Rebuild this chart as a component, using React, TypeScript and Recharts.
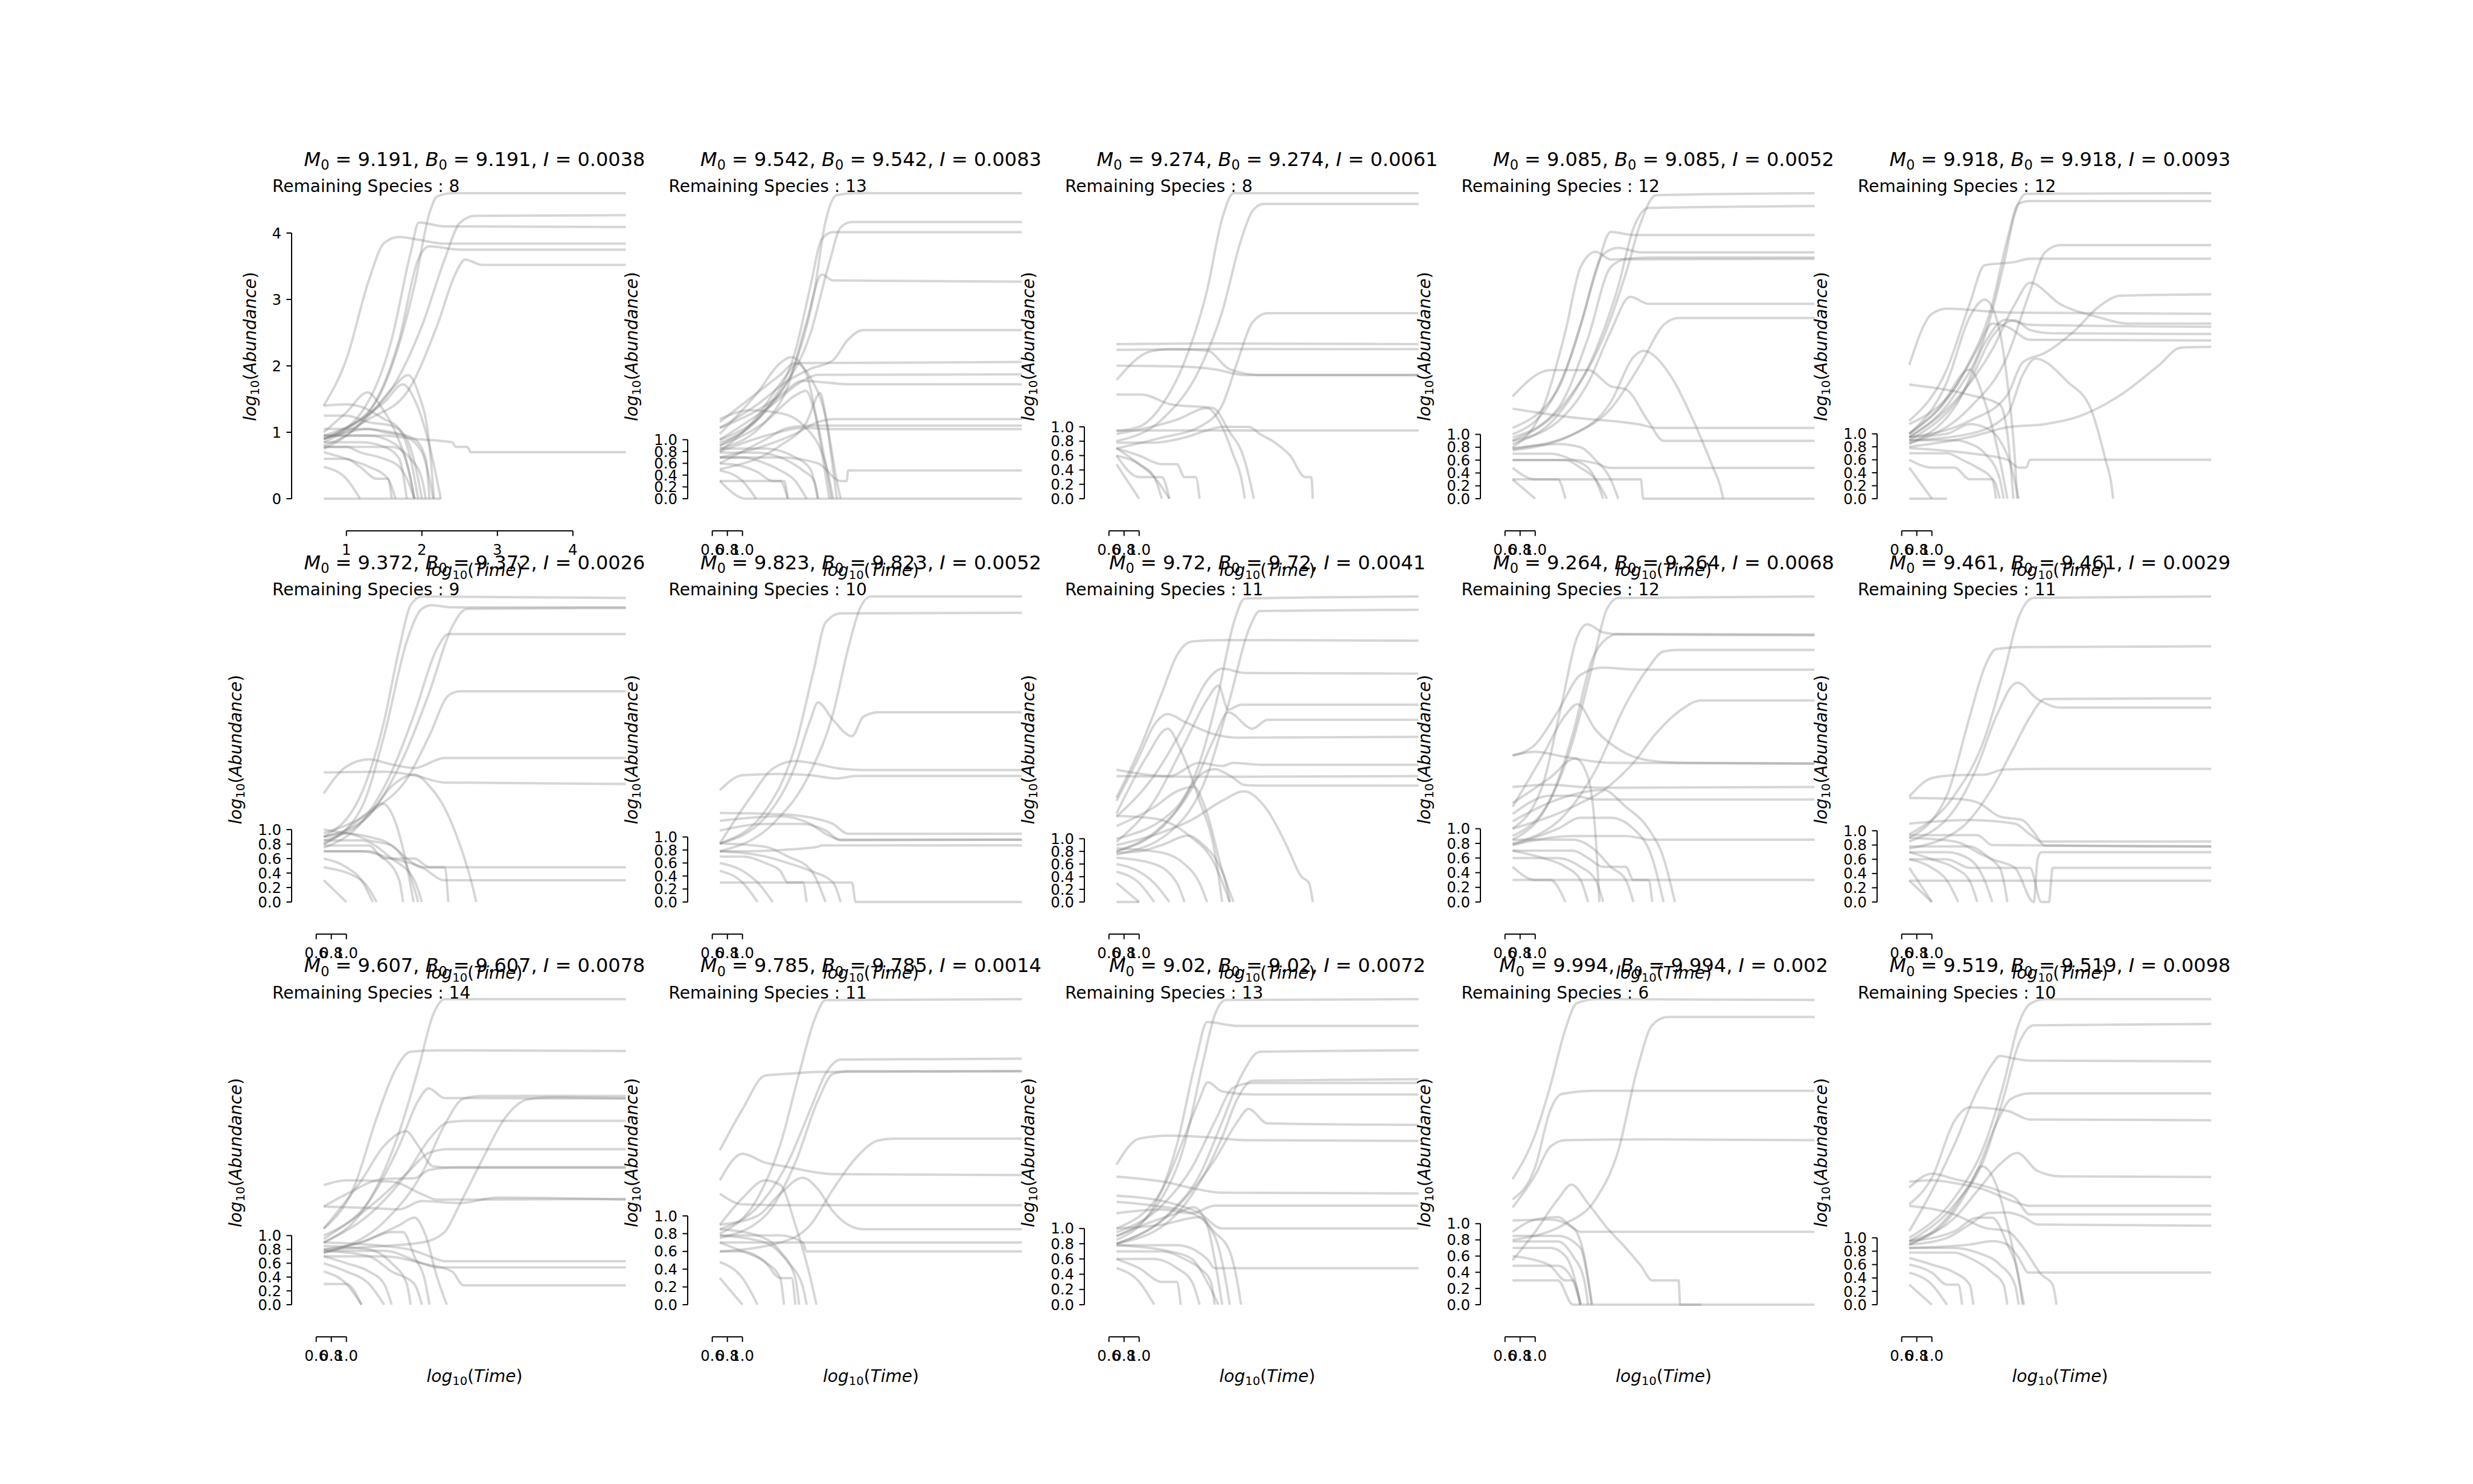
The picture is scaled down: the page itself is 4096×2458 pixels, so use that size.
import React from 'react';
import { LineChart, Line, XAxis, YAxis, ReferenceLine } from 'recharts';

// ---- data: each line = flat list of (log10 time, log10 abundance) pairs ----
const P1: number[][] = [
  [0.7,0.9, 1.0,1.05, 1.5,1.7, 1.9,3.2, 2.1,4.3, 2.2,4.55, 2.4,4.6, 4.7,4.6],
  [0.7,0.95, 1.5,1.5, 2.0,2.6, 2.3,3.6, 2.5,4.15, 2.7,4.26, 4.7,4.27],
  [0.7,0.9, 1.2,1.3, 1.6,2.4, 1.85,3.7, 1.96,4.16, 2.3,4.1, 4.7,4.09],
  [0.7,1.4, 1.0,2.1, 1.3,3.3, 1.5,3.85, 1.7,3.94, 1.95,3.9, 2.3,3.84, 4.7,3.84],
  [0.7,0.8, 1.3,1.3, 1.7,2.4, 1.95,3.6, 2.1,3.8, 2.5,3.75, 4.7,3.75],
  [0.7,0.85, 1.3,1.2, 1.8,1.6, 2.2,2.6, 2.45,3.4, 2.57,3.6, 2.8,3.52, 4.7,3.52],
  [0.7,0.75, 1.0,0.95, 1.3,1.25, 1.6,1.65, 1.82,1.86, 1.95,1.6, 2.1,0.8, 2.16,0],
  [0.7,0.9, 1.2,1.2, 1.5,1.45, 1.75,1.72, 1.9,1.5, 2.1,0.8, 2.25,0],
  [0.7,1.0, 1.0,1.3, 1.28,1.6, 1.45,1.4, 1.65,1.0, 1.85,0.3, 1.9,0],
  [0.7,1.25, 1.0,1.25, 1.3,1.15, 1.6,1.1, 1.8,0.9, 1.95,0.3, 2.0,0],
  [0.7,1.4, 1.0,1.42, 1.2,1.38, 1.5,1.2, 1.7,1.05, 1.85,0.6, 1.95,0],
  [0.7,0.95, 1.5,0.95, 1.9,0.9, 2.4,0.85, 2.45,0.78, 2.6,0.78, 2.65,0.7, 4.7,0.7],
  [0.7,0, 2.25,0],
  [0.7,0.78, 1.0,0.78, 1.18,0.7, 1.5,0.6, 1.7,0.48, 1.8,0.3, 1.9,0],
  [0.7,0.6, 1.0,0.6, 1.18,0.48, 1.4,0.3, 1.55,0.3, 1.6,0],
  [0.7,0.48, 1.0,0.3, 1.18,0],
  [0.7,0.7, 1.0,0.6, 1.3,0.48, 1.55,0.3, 1.65,0],
  [0.7,0.95, 1.3,0.95, 1.6,0.85, 1.75,0.7, 1.85,0.3, 1.9,0],
  [0.7,0.78, 1.6,0.78, 1.85,0.6, 2.0,0.3, 2.05,0],
  [0.7,0.9, 1.0,1.0, 1.3,1.05, 1.5,1.0, 1.75,0.95, 2.0,0.7, 2.1,0.3, 2.15,0],
  [0.7,0.85, 1.2,0.85, 1.5,0.78, 1.7,0.6, 1.8,0],
  [0.7,1.05, 1.2,1.05, 1.6,1.0, 1.9,0.9, 2.05,0.6, 2.1,0],
];
const P2: number[][] = [
  [0.7,0.9, 1.3,1.5, 1.7,2.3, 1.95,3.5, 2.1,4.7, 2.25,5.15, 2.5,5.18, 4.7,5.18],
  [0.7,1.0, 1.5,1.8, 1.9,2.8, 2.15,4.0, 2.3,4.6, 2.45,4.69, 4.7,4.69],
  [0.7,0.95, 1.3,1.5, 1.7,2.5, 1.9,3.6, 2.05,4.4, 2.2,4.52, 4.7,4.52],
  [0.7,0.85, 1.3,1.3, 1.6,1.9, 1.85,3.0, 2.05,3.8, 2.2,3.7, 4.7,3.68],
  [0.7,1.2, 1.2,1.6, 1.6,2.0, 1.9,2.2, 2.2,2.35, 2.4,2.7, 2.6,2.86, 4.7,2.86],
  [0.7,0.8, 1.2,1.4, 1.5,1.95, 1.75,2.3, 2.0,2.3, 4.7,2.32],
  [0.7,1.0, 1.4,1.6, 1.8,2.0, 2.0,2.1, 4.7,2.11],
  [0.7,1.2, 1.2,1.5, 1.5,1.75, 1.8,2.0, 2.1,1.97, 2.4,1.94, 4.7,1.94],
  [0.7,0.7, 1.3,0.9, 1.7,1.1, 2.0,1.3, 2.2,1.35, 4.7,1.35],
  [0.7,0.6, 1.3,1.0, 1.6,1.2, 1.9,1.24, 4.7,1.24],
  [0.7,0.8, 1.4,1.1, 1.8,1.2, 2.2,1.18, 4.7,1.18],
  [0.7,0.7, 1.5,0.7, 2.0,0.6, 2.3,0.3, 2.38,0.3, 2.4,0.48, 4.7,0.48],
  [0.7,0.3, 1.05,0, 4.7,0],
  [0.7,1.1, 1.2,1.8, 1.5,2.3, 1.65,2.4, 1.85,2.1, 2.0,1.2, 2.1,0.4, 2.15,0],
  [0.7,0.9, 1.3,1.3, 1.7,1.75, 1.84,1.83, 1.95,1.5, 2.1,0.6, 2.18,0],
  [0.7,0.5, 1.5,0.9, 1.85,1.3, 2.03,1.79, 2.1,1.4, 2.2,0.5, 2.25,0],
  [0.7,1.3, 1.2,1.8, 1.5,2.1, 1.7,2.3, 1.9,2.05, 2.1,1.4, 2.25,0.3, 2.3,0],
  [0.7,1.35, 1.1,1.5, 1.5,1.45, 1.8,1.25, 2.1,0.6, 2.2,0],
  [0.7,0.6, 1.0,0.55, 1.2,0.45, 1.4,0.3, 1.55,0.3, 1.6,0],
  [0.7,0.3, 1.5,0.3, 1.6,0],
  [0.7,0.48, 1.0,0.3, 1.18,0],
  [0.7,0.7, 1.0,0.7, 1.3,0.6, 1.5,0.48, 1.7,0.3, 1.85,0],
  [0.7,0.78, 1.2,0.78, 1.5,0.7, 1.8,0.48, 1.95,0.3, 2.0,0],
  [0.7,0.85, 1.3,0.85, 1.7,0.7, 1.9,0.5, 2.0,0],
];
const P3: number[][] = [
  [0.7,0.94, 1.0,1.0, 1.3,1.3, 1.6,1.9, 1.9,2.9, 2.1,3.9, 2.25,4.25, 4.7,4.25],
  [0.7,0.8, 1.3,1.1, 1.8,1.8, 2.1,2.6, 2.35,3.6, 2.5,4.0, 2.65,4.1, 4.7,4.1],
  [0.7,0.7, 1.3,0.85, 1.8,1.0, 2.1,1.3, 2.3,1.9, 2.5,2.45, 2.7,2.58, 4.7,2.58],
  [0.7,2.15, 2.0,2.16, 4.7,2.15],
  [0.7,2.07, 2.0,2.08, 4.7,2.08],
  [0.7,1.65, 1.15,2.05, 1.4,2.08, 1.9,2.06, 2.2,1.8, 2.6,1.72, 4.7,1.72],
  [0.7,1.85, 1.5,1.84, 2.0,1.8, 2.4,1.72, 4.7,1.72],
  [0.7,1.45, 1.03,1.45, 1.43,1.31, 1.98,1.26, 2.19,0.94, 2.39,0.56, 2.52,0],
  [0.7,0.95, 4.7,0.95],
  [0.7,0.78, 1.2,0.78, 1.6,0.85, 1.9,0.95, 2.1,1.0, 2.45,1.0, 2.6,0.9, 2.8,0.78, 3.0,0.6, 3.2,0.3, 3.28,0.3, 3.3,0],
  [0.7,0.9, 1.5,1.1, 1.9,1.26, 2.1,1.0, 2.25,0.6, 2.35,0.3, 2.4,0],
  [0.7,0.7, 1.0,0.6, 1.3,0.48, 1.5,0.48, 1.6,0.3, 1.75,0.3, 1.8,0],
  [0.7,0.6, 1.0,0.3, 1.3,0.3, 1.4,0],
  [0.7,0.48, 1.0,0],
  [0.7,0.7, 1.0,0.48, 1.2,0.3, 1.4,0],
  [0.7,0.6, 1.0,0.48, 1.2,0.3, 1.3,0],
];
const P4: number[][] = [
  [0.7,0.9, 1.4,1.5, 1.9,2.5, 2.2,3.5, 2.4,4.3, 2.6,4.72, 4.7,4.75],
  [0.7,0.85, 1.3,1.3, 1.8,2.3, 2.1,3.3, 2.3,4.2, 2.5,4.52, 4.7,4.55],
  [0.7,1.0, 1.2,1.5, 1.5,2.3, 1.8,3.5, 2.0,4.15, 2.3,4.1, 4.7,4.1],
  [0.7,1.1, 1.3,1.7, 1.6,2.7, 1.9,3.8, 2.1,3.9, 2.4,3.83, 4.7,3.83],
  [0.7,0.8, 1.1,1.4, 1.4,2.6, 1.6,3.6, 1.8,3.84, 2.0,3.72, 2.5,3.75, 4.7,3.75],
  [0.7,0.95, 1.3,1.4, 1.7,2.5, 2.0,3.6, 2.2,3.72, 4.7,3.73],
  [0.7,0.9, 1.3,1.2, 1.7,1.8, 2.0,2.6, 2.26,3.14, 2.5,3.03, 4.7,3.03],
  [0.7,0.75, 1.5,1.0, 2.0,1.4, 2.4,2.1, 2.7,2.7, 2.9,2.81, 4.7,2.81],
  [0.7,0.78, 1.5,1.0, 2.0,1.5, 2.3,2.2, 2.43,2.3, 2.8,1.9, 3.1,1.2, 3.35,0.5, 3.45,0.2, 3.49,0],
  [0.7,1.59, 1.2,2.0, 1.7,2.0, 2.0,1.75, 2.2,1.7, 2.5,1.2, 2.7,0.9, 4.7,0.9],
  [0.7,1.4, 1.6,1.25, 2.0,1.21, 2.4,1.15, 2.6,1.1, 4.7,1.1],
  [0.7,0.6, 1.5,0.6, 1.8,0.55, 2.0,0.48, 4.7,0.48],
  [0.7,0.3, 1.0,0.3, 2.4,0.3, 2.43,0, 4.7,0],
  [0.7,0.7, 1.2,0.7, 1.5,0.6, 1.7,0.48, 1.8,0.3, 1.9,0],
  [0.7,0.6, 1.4,0.6, 1.6,0.48, 1.8,0.3, 1.95,0],
  [0.7,0.48, 1.0,0.3, 1.3,0.3, 1.4,0],
  [0.7,0.3, 1.0,0],
  [0.7,0.78, 1.3,0.85, 1.6,0.8, 1.8,0.6, 2.0,0.3, 2.1,0],
];
const P5: number[][] = [
  [0.7,0.95, 1.3,1.6, 1.7,2.5, 1.95,3.6, 2.1,4.4, 2.25,4.7, 4.7,4.71],
  [0.7,1.0, 1.4,1.9, 1.8,3.0, 2.0,4.0, 2.15,4.55, 2.3,4.59, 4.7,4.59],
  [0.7,0.85, 1.5,1.4, 2.0,2.2, 2.3,3.2, 2.5,3.8, 2.7,3.91, 4.7,3.91],
  [0.7,1.2, 1.2,2.0, 1.5,3.0, 1.7,3.6, 2.1,3.65, 2.3,3.7, 4.7,3.7],
  [0.7,0.95, 1.3,1.5, 1.8,2.3, 2.1,3.0, 2.3,3.33, 2.7,3.0, 3.2,2.8, 3.6,2.7, 4.7,2.7],
  [0.7,1.0, 1.2,1.8, 1.5,2.8, 1.7,3.07, 1.85,2.8, 2.0,1.8, 2.1,0.6, 2.13,0],
  [0.7,2.06, 1.0,2.85, 1.2,2.93, 2.0,2.87, 4.7,2.85],
  [0.7,0.85, 1.4,1.6, 1.7,2.4, 1.98,2.76, 2.3,2.68, 4.7,2.65],
  [0.7,0.9, 1.5,1.8, 1.8,2.5, 2.1,2.75, 2.3,2.6, 2.6,2.55, 4.7,2.54],
  [0.7,1.15, 1.3,1.7, 1.6,2.3, 1.8,2.7, 2.0,2.65, 2.3,2.45, 4.7,2.44],
  [0.7,0.95, 1.5,1.2, 2.0,1.6, 2.2,2.1, 2.5,2.25, 2.9,2.6, 3.2,2.95, 3.5,3.13, 4.7,3.15],
  [0.7,0.8, 1.5,0.95, 2.0,1.1, 2.5,1.15, 2.9,1.25, 3.5,1.6, 4.0,2.05, 4.3,2.33, 4.7,2.34],
  [0.7,0.9, 1.5,1.0, 2.0,1.3, 2.2,1.9, 2.37,2.16, 2.8,1.8, 3.1,1.4, 3.3,0.6, 3.38,0.2, 3.4,0],
  [0.7,1.0, 1.1,1.4, 1.5,1.99, 1.7,1.5, 1.9,0.6, 2.0,0],
  [0.7,1.76, 1.5,1.6, 1.9,1.45, 2.0,1.0, 2.08,0],
  [0.7,0.78, 1.5,0.7, 2.0,0.6, 2.15,0.48, 2.25,0.48, 2.3,0.6, 4.7,0.6],
  [0.7,0.6, 1.0,0.48, 1.3,0.48, 1.5,0.3, 1.8,0.3, 1.9,0],
  [0.7,0.48, 1.0,0],
  [0.7,0.7, 1.2,0.7, 1.4,0.6, 1.6,0.48, 1.8,0.3, 1.85,0],
  [0.7,0.9, 1.3,0.9, 1.5,0.85, 1.7,0.7, 1.9,0.3, 1.95,0],
  [0.7,0, 1.2,0],
  [0.7,0.95, 1.2,1.0, 1.5,1.15, 1.7,1.1, 1.9,0.9, 2.05,0.5, 2.15,0],
];
const P6: number[][] = [
  [0.7,0.9, 1.2,1.5, 1.5,2.5, 1.7,3.5, 1.85,4.1, 2.0,4.22, 4.7,4.2],
  [0.7,0.8, 1.2,1.3, 1.5,2.3, 1.8,3.6, 2.0,4.05, 2.13,4.1, 2.4,4.07, 4.7,4.07],
  [0.7,0.85, 1.3,1.2, 1.8,2.1, 2.1,2.9, 2.4,3.8, 2.6,4.05, 4.7,4.06],
  [0.7,0.75, 1.2,1.1, 1.6,1.8, 1.9,2.6, 2.2,3.5, 2.35,3.7, 4.7,3.7],
  [0.7,0.95, 1.4,1.3, 1.8,1.7, 2.1,2.3, 2.35,2.85, 2.5,2.91, 4.7,2.91],
  [0.7,1.5, 1.0,1.87, 1.3,1.97, 1.6,1.9, 1.9,1.85, 2.3,1.99, 4.7,1.99],
  [0.7,1.79, 1.5,1.8, 1.9,1.75, 2.3,1.65, 4.7,1.63],
  [0.7,0.9, 1.3,1.2, 1.6,1.6, 1.9,1.76, 2.1,1.6, 2.3,1.3, 2.5,0.8, 2.65,0.3, 2.72,0],
  [0.7,0.8, 1.0,1.0, 1.3,1.25, 1.48,1.36, 1.65,1.1, 1.8,0.5, 1.89,0],
  [0.7,0.78, 1.3,0.78, 1.5,0.6, 1.9,0.6, 2.1,0.48, 4.7,0.48],
  [0.7,0.7, 1.2,0.7, 1.6,0.6, 2.0,0.48, 2.3,0.3, 4.7,0.3],
  [0.7,0.6, 1.0,0.48, 1.2,0.3, 1.35,0],
  [0.7,0.3, 1.0,0],
  [0.7,0.48, 1.2,0.3, 1.4,0],
  [0.7,0.7, 1.3,0.7, 1.5,0.6, 1.7,0.3, 1.75,0],
  [0.7,0.9, 1.0,0.95, 1.3,0.85, 1.6,0.78, 1.8,0.6, 2.0,0.48, 2.3,0.48, 2.35,0],
  [0.7,1.0, 1.0,0.95, 1.3,0.9, 1.6,0.78, 1.8,0.5, 1.95,0],
  [0.7,0.85, 1.2,0.85, 1.6,0.6, 1.9,0.3, 2.0,0],
];
const P7: number[][] = [
  [0.7,0.78, 1.4,1.2, 1.9,2.0, 2.2,2.9, 2.4,3.9, 2.55,4.5, 2.7,4.7, 4.7,4.7],
  [0.7,0.9, 1.3,1.4, 1.7,2.4, 1.95,3.6, 2.1,4.3, 2.3,4.44, 4.7,4.45],
  [0.7,0.9, 1.3,1.3, 1.7,2.1, 1.9,2.8, 2.0,3.07, 2.2,2.8, 2.45,2.55, 2.6,2.85, 2.8,2.92, 4.7,2.92],
  [0.7,1.72, 1.0,1.95, 1.5,1.97, 1.9,1.95, 2.25,1.9, 2.5,1.94, 4.7,1.94],
  [0.7,0.9, 1.1,1.6, 1.4,2.05, 1.7,2.17, 2.0,2.12, 2.3,2.05, 2.6,2.03, 4.7,2.03],
  [0.7,1.37, 1.5,1.35, 1.9,1.3, 2.2,1.2, 2.4,1.05, 4.7,1.05],
  [0.7,1.1, 1.3,1.2, 1.8,1.2, 2.1,1.1, 2.3,0.95, 4.7,0.96],
  [0.7,1.25, 1.5,1.32, 1.9,1.2, 2.1,1.05, 2.3,0.96, 4.7,0.96],
  [0.7,0.78, 1.0,0.78, 1.5,0.8, 2.0,0.85, 2.05,0.87, 4.7,0.87],
  [0.7,0.3, 1.3,0.3, 2.0,0.3, 2.45,0.3, 2.5,0, 4.7,0],
  [0.7,0.7, 1.0,0.7, 1.3,0.6, 1.5,0.48, 1.6,0.3, 1.8,0.3, 1.85,0],
  [0.7,0.6, 1.0,0.48, 1.2,0.3, 1.4,0],
  [0.7,0.48, 1.0,0.3, 1.2,0],
  [0.7,0.78, 1.3,0.7, 1.6,0.6, 1.9,0.48, 2.2,0.3, 2.3,0],
  [0.7,0.9, 1.3,0.85, 1.6,0.7, 1.9,0.5, 2.1,0],
];
const P8: number[][] = [
  [0.7,0.8, 1.4,1.3, 1.8,2.2, 2.05,3.3, 2.25,4.4, 2.4,4.8, 4.7,4.83],
  [0.7,0.75, 1.4,1.1, 1.9,2.0, 2.2,3.2, 2.45,4.3, 2.6,4.6, 4.7,4.62],
  [0.7,1.65, 1.0,2.4, 1.3,3.3, 1.5,3.9, 1.7,4.12, 2.1,4.14, 4.7,4.13],
  [0.7,1.35, 1.2,2.0, 1.6,2.8, 1.9,3.5, 2.1,3.69, 2.4,3.62, 4.7,3.61],
  [0.7,0.95, 1.2,1.6, 1.6,2.5, 1.9,3.2, 2.05,3.42, 2.18,3.04, 2.35,3.12, 4.7,3.12],
  [0.7,0.8, 1.3,1.2, 1.7,1.8, 2.0,2.6, 2.18,3.0, 2.5,2.74, 2.7,2.88, 4.7,2.88],
  [0.7,1.6, 1.0,2.3, 1.2,2.8, 1.38,2.97, 1.6,2.85, 2.0,2.65, 2.3,2.6, 4.7,2.61],
  [0.7,1.4, 1.1,2.3, 1.38,2.74, 1.55,2.4, 1.8,1.6, 2.0,0.8, 2.1,0],
  [0.7,2.09, 1.4,1.99, 1.8,2.2, 2.1,2.15, 2.25,2.2, 2.6,2.17, 4.7,2.17],
  [0.7,1.99, 1.6,1.98, 2.4,1.98, 4.7,1.99],
  [0.7,1.0, 1.5,1.5, 1.8,2.0, 2.0,2.1, 2.2,2.0, 2.4,1.85, 2.6,1.84, 4.7,1.84],
  [0.7,0.9, 1.3,1.1, 1.7,1.3, 2.1,1.6, 2.39,1.75, 2.7,1.45, 2.95,0.9, 3.15,0.4, 3.25,0.3, 3.3,0],
  [0.7,1.2, 1.2,1.5, 1.5,1.75, 1.72,1.82, 1.9,1.4, 2.1,0.5, 2.25,0],
  [0.7,0.78, 1.0,0.8, 1.3,0.9, 1.65,1.05, 1.85,0.9, 2.05,0.6, 2.15,0.3, 2.2,0],
  [0.7,1.36, 1.2,1.32, 1.65,1.06, 2.0,0.6, 2.2,0],
  [0.7,0.6, 1.0,0.48, 1.2,0.3, 1.4,0],
  [0.7,0.48, 1.0,0.3, 1.2,0],
  [0.7,0.3, 1.0,0],
  [0.7,0.7, 1.2,0.6, 1.5,0.3, 1.6,0],
  [0.7,0.85, 1.3,0.78, 1.6,0.6, 1.8,0.3, 1.9,0],
  [0.7,0, 1.0,0],
];
const P9: number[][] = [
  [0.7,0.9, 1.2,1.4, 1.5,2.2, 1.75,3.2, 1.95,4.0, 2.1,4.15, 4.7,4.17],
  [0.7,1.0, 1.1,1.6, 1.35,2.7, 1.55,3.6, 1.69,3.79, 1.9,3.68, 2.2,3.65, 4.7,3.64],
  [0.7,0.85, 1.2,1.4, 1.5,2.3, 1.75,3.3, 1.95,3.6, 2.1,3.66, 4.7,3.65],
  [0.7,0.8, 1.4,1.2, 1.8,1.8, 2.2,2.7, 2.5,3.2, 2.7,3.42, 2.9,3.44, 4.7,3.44],
  [0.7,2.0, 1.0,2.15, 1.3,2.6, 1.6,3.1, 1.9,3.2, 2.2,3.18, 2.5,3.17, 4.7,3.17],
  [0.7,1.0, 1.5,1.3, 2.0,1.6, 2.3,1.9, 2.6,2.3, 2.9,2.6, 3.2,2.75, 4.7,2.75],
  [0.7,1.3, 1.1,2.0, 1.4,2.55, 1.56,2.7, 1.8,2.35, 2.2,2.03, 2.6,1.92, 3.0,1.9, 4.7,1.89],
  [0.7,2.0, 1.0,2.05, 1.4,1.98, 2.0,1.9, 4.7,1.89],
  [0.7,1.57, 1.2,1.6, 1.6,1.57, 2.0,1.56, 4.7,1.57],
  [0.7,1.2, 1.2,1.45, 1.5,1.45, 1.8,1.4, 4.7,1.4],
  [0.7,1.35, 1.2,1.7, 1.53,1.96, 1.7,1.7, 1.8,0.9, 1.85,0],
  [0.7,1.1, 1.3,1.4, 1.9,1.53, 2.2,1.3, 2.5,1.0, 2.7,0.6, 2.85,0],
  [0.7,0.78, 1.3,1.0, 1.6,1.15, 2.0,1.15, 2.3,1.0, 2.55,0.6, 2.7,0],
  [0.7,0.78, 1.5,0.9, 2.2,0.9, 2.4,0.87, 2.5,0.85, 4.7,0.85],
  [0.7,0.3, 4.7,0.3],
  [0.7,0.7, 1.5,0.7, 1.7,0.6, 1.9,0.48, 2.2,0.48, 2.3,0.3, 2.5,0.3, 2.55,0],
  [0.7,0.6, 1.3,0.6, 1.6,0.48, 1.8,0.3, 1.9,0],
  [0.7,0.48, 1.0,0.3, 1.2,0.3, 1.4,0],
  [0.7,0.7, 1.1,0.6, 1.4,0.48, 1.6,0.3, 1.7,0],
  [0.7,0.85, 1.5,0.85, 1.8,0.7, 2.0,0.48, 2.2,0.3, 2.3,0],
];
const P10: number[][] = [
  [0.7,0.95, 1.3,1.5, 1.7,2.3, 1.95,3.2, 2.15,4.0, 2.35,4.27, 4.7,4.29],
  [0.7,0.9, 1.2,1.5, 1.5,2.6, 1.7,3.3, 1.85,3.55, 2.2,3.58, 4.7,3.59],
  [0.7,0.85, 1.3,1.3, 1.6,1.9, 1.85,2.6, 2.13,3.08, 2.4,2.85, 2.7,2.73, 4.7,2.73],
  [0.7,0.75, 1.4,1.05, 1.8,1.6, 2.1,2.2, 2.3,2.6, 2.5,2.85, 4.7,2.86],
  [0.7,1.48, 1.0,1.74, 1.3,1.78, 1.7,1.79, 1.95,1.86, 2.5,1.87, 4.7,1.87],
  [0.7,1.46, 1.3,1.45, 1.6,1.4, 1.9,1.2, 2.2,1.15, 2.35,0.98, 2.5,0.79, 4.7,0.78],
  [0.7,1.1, 1.5,1.15, 2.1,1.1, 2.3,0.95, 2.45,0.85, 4.7,0.85],
  [0.7,0.94, 1.6,0.94, 1.8,0.8, 4.7,0.78],
  [0.7,0.78, 1.5,0.78, 1.8,0.6, 2.1,0.48, 2.35,0, 2.4,0.6, 2.45,0.7, 4.7,0.7],
  [0.7,0.6, 1.2,0.6, 1.5,0.48, 2.3,0.48, 2.45,0, 2.55,0, 2.6,0.48, 4.7,0.48],
  [0.7,0.3, 4.7,0.3],
  [0.7,0.7, 1.0,0.6, 1.3,0.48, 1.5,0.3, 1.6,0],
  [0.7,0.6, 1.0,0.48, 1.2,0.3, 1.35,0],
  [0.7,0.48, 1.0,0],
  [0.7,0.3, 1.0,0],
  [0.7,0.7, 1.2,0.7, 1.5,0.6, 1.7,0.3, 1.8,0],
  [0.7,0.9, 1.3,0.85, 1.6,0.7, 1.9,0.48, 2.0,0],
];
const P11: number[][] = [
  [0.7,0.9, 1.3,1.5, 1.7,2.5, 1.95,3.4, 2.15,4.2, 2.3,4.42, 4.7,4.42],
  [0.7,1.1, 1.1,1.7, 1.4,2.7, 1.65,3.4, 1.85,3.66, 2.2,3.68, 4.7,3.67],
  [0.7,1.0, 1.3,1.5, 1.7,2.3, 1.95,2.95, 2.09,3.13, 2.3,2.99, 4.7,2.98],
  [0.7,0.75, 1.5,1.2, 2.0,1.9, 2.3,2.6, 2.55,2.98, 2.8,3.02, 4.7,3.02],
  [0.7,0.8, 1.5,0.85, 2.0,0.9, 2.3,1.05, 2.5,1.45, 2.8,2.1, 3.1,2.7, 3.4,2.97, 3.7,3.0, 4.7,2.99],
  [0.7,0.9, 1.4,1.4, 1.8,1.9, 2.1,2.4, 2.35,2.64, 2.6,2.66, 4.7,2.66],
  [0.7,1.1, 1.2,1.8, 1.5,2.3, 1.79,2.51, 1.95,2.3, 2.15,2.0, 2.5,1.98, 4.7,1.98],
  [0.7,0.95, 1.4,1.5, 1.8,1.9, 2.1,2.2, 2.35,2.25, 4.7,2.25],
  [0.7,1.42, 1.0,1.6, 1.5,1.82, 1.9,1.83, 2.1,1.95, 2.5,1.99, 4.7,1.99],
  [0.7,1.42, 1.3,1.4, 1.7,1.38, 2.0,1.5, 2.5,1.47, 3.0,1.55, 4.7,1.52],
  [0.7,1.73, 1.0,1.8, 1.6,1.78, 2.0,1.6, 2.2,1.52, 4.7,1.53],
  [0.7,0.75, 1.3,0.95, 1.7,1.15, 1.9,1.26, 2.05,1.0, 2.2,0.4, 2.33,0],
  [0.7,0.8, 1.2,0.9, 1.6,1.05, 1.75,1.05, 1.9,0.7, 2.05,0.3, 2.1,0],
  [0.7,0.9, 1.5,0.85, 1.9,0.78, 2.1,0.7, 2.3,0.63, 4.7,0.63],
  [0.7,0.7, 1.5,0.7, 2.0,0.6, 2.2,0.54, 4.7,0.54],
  [0.7,0.3, 1.0,0.3, 1.2,0],
  [0.7,0.78, 1.5,0.78, 2.0,0.6, 2.4,0.48, 2.55,0.28, 4.7,0.28],
  [0.7,0.7, 1.0,0.6, 1.3,0.48, 1.5,0.3, 1.6,0],
  [0.7,0.48, 1.0,0.3, 1.2,0],
  [0.7,0.6, 1.0,0.48, 1.3,0.3, 1.5,0],
  [0.7,0.78, 1.3,0.7, 1.6,0.48, 1.9,0.3, 2.0,0],
  [0.7,0.85, 1.3,0.8, 1.6,0.6, 1.8,0.3, 1.85,0],
];
const P12: number[][] = [
  [0.7,0.8, 1.2,1.2, 1.5,1.8, 1.75,2.6, 1.95,3.2, 2.1,3.43, 4.7,3.44],
  [0.7,0.85, 1.2,1.1, 1.6,1.6, 1.9,2.2, 2.1,2.6, 2.3,2.76, 4.7,2.77],
  [0.7,0.75, 1.3,1.0, 1.7,1.6, 2.0,2.3, 2.2,2.6, 2.4,2.63, 4.7,2.63],
  [0.7,1.74, 1.0,2.2, 1.3,2.58, 1.6,2.6, 2.0,2.62, 4.7,2.63],
  [0.7,0.6, 1.5,0.7, 1.9,0.9, 2.2,1.3, 2.5,1.65, 2.8,1.85, 3.0,1.87, 4.7,1.87],
  [0.7,1.4, 1.0,1.7, 1.3,1.6, 1.6,1.55, 1.9,1.5, 2.2,1.47, 4.7,1.46],
  [0.7,1.25, 1.0,1.13, 1.5,1.12, 4.7,1.12],
  [0.7,0.9, 1.2,1.0, 1.5,1.25, 1.8,1.43, 2.0,1.3, 2.2,1.05, 2.4,0.9, 2.6,0.85, 4.7,0.85],
  [0.7,0.9, 1.0,1.2, 1.3,1.4, 1.5,1.35, 1.7,0.9, 1.9,0.3, 1.98,0],
  [0.7,0.7, 1.8,0.7, 4.7,0.7],
  [0.7,0.78, 1.5,0.78, 1.8,0.7, 1.85,0.6, 4.7,0.6],
  [0.7,0.48, 1.0,0.3, 1.2,0],
  [0.7,0.3, 1.0,0],
  [0.7,0.6, 1.0,0.6, 1.3,0.48, 1.5,0.3, 1.65,0.3, 1.7,0],
  [0.7,0.7, 1.0,0.6, 1.3,0.48, 1.5,0.3, 1.55,0],
  [0.7,0.85, 1.2,0.78, 1.5,0.6, 1.7,0.3, 1.75,0],
  [0.7,0.78, 1.3,0.7, 1.6,0.48, 1.8,0.2, 1.85,0],
];
const P13: number[][] = [
  [0.7,0.9, 1.3,1.4, 1.6,2.1, 1.85,3.2, 2.0,3.8, 2.15,4.0, 4.7,4.01],
  [0.7,0.85, 1.2,1.3, 1.5,2.1, 1.75,3.2, 1.9,3.71, 2.3,3.66, 4.7,3.66],
  [0.7,0.8, 1.4,1.2, 1.8,1.7, 2.1,2.4, 2.35,3.0, 2.6,3.32, 4.7,3.34],
  [0.7,0.8, 1.4,1.1, 1.8,1.6, 2.1,2.2, 2.3,2.7, 2.5,2.94, 4.7,2.96],
  [0.7,0.95, 1.3,1.3, 1.7,1.8, 2.0,2.4, 2.25,2.85, 2.5,2.91, 4.7,2.91],
  [0.7,1.0, 1.3,1.5, 1.6,2.2, 1.8,2.7, 1.91,2.92, 2.1,2.8, 2.5,2.76, 4.7,2.76],
  [0.7,0.8, 1.3,1.1, 1.7,1.5, 2.0,1.9, 2.3,2.4, 2.45,2.57, 2.7,2.38, 4.7,2.36],
  [0.7,1.84, 1.0,2.18, 1.4,2.22, 1.9,2.2, 2.4,2.16, 4.7,2.15],
  [0.7,1.68, 1.4,1.6, 1.7,1.53, 2.1,1.47, 4.7,1.46],
  [0.7,1.43, 1.4,1.34, 1.8,1.2, 2.1,1.0, 4.7,1.0],
  [0.7,1.2, 1.3,1.25, 1.7,1.2, 2.0,1.3, 2.4,1.3, 4.7,1.3],
  [0.7,0.9, 1.2,1.1, 1.5,1.2, 1.72,1.28, 1.9,1.05, 2.0,0.6, 2.1,0],
  [0.7,1.35, 1.2,1.3, 1.7,1.2, 2.0,0.9, 2.15,0.3, 2.2,0],
  [0.7,1.0, 1.3,1.05, 1.8,1.15, 2.0,0.95, 2.2,0.7, 2.3,0.3, 2.35,0],
  [0.7,0.78, 1.5,0.78, 1.9,0.6, 2.0,0.48, 4.7,0.48],
  [0.7,0.48, 1.0,0.3, 1.2,0],
  [0.7,0.6, 1.0,0.48, 1.3,0.3, 1.5,0.3, 1.55,0],
  [0.7,0.6, 1.2,0.6, 1.5,0.48, 1.7,0.3, 1.8,0],
  [0.7,0.7, 1.3,0.7, 1.6,0.6, 1.8,0.48, 1.95,0.3, 2.0,0],
  [0.7,0.78, 1.4,0.7, 1.7,0.6, 1.9,0.3, 2.05,0],
];
const P14: number[][] = [
  [0.7,1.55, 1.0,2.1, 1.2,2.7, 1.4,3.4, 1.55,3.72, 1.8,3.77, 4.7,3.76],
  [0.7,0.8, 1.4,1.0, 1.8,1.3, 2.1,1.9, 2.35,2.9, 2.55,3.45, 2.75,3.55, 4.7,3.55],
  [0.7,1.3, 1.0,1.7, 1.2,2.4, 1.35,2.6, 1.8,2.64, 4.7,2.64],
  [0.7,1.2, 1.0,1.6, 1.2,1.95, 1.4,2.03, 2.5,2.04, 4.7,2.03],
  [0.7,0.55, 1.0,0.9, 1.3,1.3, 1.48,1.48, 1.7,1.25, 1.95,0.95, 2.2,0.7, 2.4,0.48, 2.55,0.3, 2.9,0.3, 2.92,0, 3.2,0],
  [0.7,0.9, 1.0,1.05, 1.3,1.08, 1.5,0.95, 1.6,0.9, 4.7,0.9],
  [0.7,0.3, 1.3,0.3, 1.5,0, 4.7,0],
  [0.7,0.6, 1.0,0.55, 1.2,0.48, 1.4,0.3, 1.5,0.3, 1.6,0],
  [0.7,0.7, 1.2,0.7, 1.4,0.6, 1.5,0.4, 1.6,0],
  [0.7,0.78, 1.3,0.78, 1.5,0.6, 1.65,0.3, 1.7,0],
  [0.7,0.85, 1.3,0.85, 1.6,0.7, 1.7,0.3, 1.75,0],
  [0.7,1.04, 1.2,1.05, 1.5,0.95, 1.65,0.6, 1.75,0],
  [0.7,0.48, 1.3,0.48, 1.5,0.3, 1.6,0],
];
const P15: number[][] = [
  [0.7,1.0, 1.3,1.6, 1.7,2.4, 1.95,3.3, 2.15,4.2, 2.3,4.5, 2.5,4.57, 4.7,4.57],
  [0.7,0.95, 1.3,1.5, 1.7,2.2, 1.95,3.1, 2.15,3.9, 2.35,4.18, 4.7,4.2],
  [0.7,1.1, 1.0,1.7, 1.3,2.4, 1.6,3.2, 1.8,3.6, 1.9,3.72, 2.1,3.68, 2.3,3.65, 4.7,3.64],
  [0.7,0.9, 1.3,1.4, 1.6,2.0, 1.85,2.7, 2.05,3.08, 2.3,3.16, 4.7,3.16],
  [0.7,1.5, 1.0,1.9, 1.3,2.75, 1.5,2.95, 2.0,2.9, 2.3,2.77, 4.7,2.76],
  [0.7,0.95, 1.3,1.3, 1.6,1.7, 1.9,2.1, 2.13,2.27, 2.4,2.0, 2.7,1.92, 4.7,1.91],
  [0.7,0.9, 1.2,1.3, 1.5,1.8, 1.66,2.07, 1.85,1.8, 2.0,1.2, 2.15,0.4, 2.22,0],
  [0.7,1.84, 1.0,1.86, 1.3,1.82, 1.7,1.72, 2.0,1.58, 2.3,1.48, 4.7,1.48],
  [0.7,1.75, 1.0,1.96, 1.3,1.88, 1.9,1.7, 2.1,1.6, 2.3,1.35, 4.7,1.35],
  [0.7,0.9, 1.2,1.0, 1.5,1.2, 1.75,1.37, 2.0,1.38, 2.2,1.32, 2.4,1.2, 4.7,1.18],
  [0.7,1.48, 1.3,1.35, 1.7,1.15, 2.0,1.1, 2.2,0.87, 2.45,0.45, 2.6,0.3, 2.65,0],
  [0.7,0.95, 1.3,1.1, 1.6,1.3, 1.8,1.3, 2.0,0.9, 2.15,0.4, 2.2,0],
  [0.7,0.85, 1.5,0.9, 1.8,0.95, 2.0,0.9, 2.15,0.7, 2.28,0.48, 4.7,0.48],
  [0.7,0.3, 1.0,0],
  [0.7,0.48, 1.0,0.3, 1.2,0],
  [0.7,0.6, 1.0,0.48, 1.2,0.3, 1.35,0.3, 1.4,0],
  [0.7,0.7, 1.0,0.6, 1.3,0.48, 1.5,0.3, 1.55,0],
  [0.7,0.78, 1.3,0.78, 1.5,0.7, 1.8,0.48, 1.95,0.3, 2.0,0],
  [0.7,0.85, 1.3,0.85, 1.6,0.78, 1.9,0.6, 2.1,0.3, 2.15,0],
];

const PANELS = [P1, P2, P3, P4, P5, P6, P7, P8, P9, P10, P11, P12, P13, P14, P15];
const M0_LABELS = ['9.191','9.542','9.274','9.085','9.918','9.372','9.823','9.72','9.264','9.461','9.607','9.785','9.02','9.994','9.519'];
const I_LABELS = ['0.0038','0.0083','0.0061','0.0052','0.0093','0.0026','0.0052','0.0041','0.0068','0.0029','0.0078','0.0014','0.0072','0.002','0.0098'];
const REMAINING = [8, 13, 8, 12, 12, 9, 10, 11, 12, 11, 14, 11, 13, 6, 10];
const X_TICKS_FIRST = [1, 2, 3, 4];
const Y_TICKS_FIRST = [0, 1, 2, 3, 4];
const X_TICKS_OTHER = [0.6, 0.8, 1.0];
const Y_TICKS_OTHER = [0, 0.2, 0.4, 0.6, 0.8, 1.0];

// ---- layout (reference px, scaled by S) ----
const S = 0.585;
const FONT = 'DejaVu Sans';
const X_START0 = 916, X_STEP = 1122.25;    // where log10 t = 0.7 sits
const ZERO0 = 1412, ZERO_STEP = 1141.3;    // where log10 N = 0 sits
const DATA_W = 855, DATA_H = 865, OFFSET = 91;
const X_MIN_DATA = 0.7, X_MAX = 4.7;
const X_LO = X_MIN_DATA - OFFSET * (X_MAX - X_MIN_DATA) / DATA_W;
const YW = 200, MT = 150, XH = 100, MR = 20;
const PLOT_W = (DATA_W + OFFSET) * S;
const PLOT_H = (DATA_H + OFFSET) * S;
const CW = YW + PLOT_W + MR;
const CH = MT + PLOT_H + XH;

const toPts = (l: number[]) => {
  const out: { x: number; y: number }[] = [];
  for (let i = 0; i < l.length; i += 2) out.push({ x: l[i], y: l[i + 1] });
  return out;
};

function Panel({ idx }: { idx: number }) {
  const r = Math.floor(idx / 5), c = idx % 5;
  const start = X_START0 + X_STEP * c;
  const zero = ZERO0 + ZERO_STEP * r;
  const lines = PANELS[idx];
  let ymax = 0;
  lines.forEach((l) => { for (let i = 1; i < l.length; i += 2) ymax = Math.max(ymax, l[i]); });
  const yLo = -ymax * OFFSET / DATA_H;
  const first = idx === 0;
  const xt = first ? X_TICKS_FIRST : X_TICKS_OTHER;
  const yt = first ? Y_TICKS_FIRST : Y_TICKS_OTHER;
  const left = (start - OFFSET) * S - YW;
  const top = (zero - DATA_H) * S - MT;
  const tickStyle = { fill: '#000', fontSize: 24.4, fontFamily: FONT };
  const tl = { stroke: '#000', strokeWidth: 1.95 };
  return (
    <div style={{ position: 'absolute', left, top, width: CW, height: CH }}>
      <LineChart width={CW} height={CH} margin={{ top: MT, right: MR, bottom: 0, left: 0 }}>
        <XAxis dataKey="x" type="number" domain={[X_LO, X_MAX]} ticks={xt} interval={0}
          tickFormatter={(v: number) => (first ? String(v) : v.toFixed(1))}
          axisLine={false} tickLine={tl} tickSize={8.5} tickMargin={14} tick={tickStyle} height={XH} />
        <YAxis type="number" domain={[yLo, ymax]} ticks={yt} interval={0}
          tickFormatter={(v: number) => (first ? String(v) : v.toFixed(1))}
          axisLine={false} tickLine={tl} tickSize={8.5} tickMargin={8.5} tick={tickStyle} width={YW} />
        <ReferenceLine segment={[{ x: xt[0], y: yLo }, { x: xt[xt.length - 1], y: yLo }]}
          stroke="#000" strokeWidth={1.95} ifOverflow="visible" />
        <ReferenceLine segment={[{ x: X_LO, y: 0 }, { x: X_LO, y: yt[yt.length - 1] }]}
          stroke="#000" strokeWidth={1.95} ifOverflow="visible" />
        {lines.map((l, i) => (
          <Line key={i} data={toPts(l)} dataKey="y" type="monotoneX" stroke="#808080"
            strokeOpacity={0.32} strokeWidth={4} dot={false} activeDot={false}
            isAnimationActive={false} />
        ))}
      </LineChart>
    </div>
  );
}

function Texts() {
  const items: React.ReactNode[] = [];
  for (let idx = 0; idx < 15; idx++) {
    const r = Math.floor(idx / 5), c = idx % 5;
    const start = X_START0 + X_STEP * c;
    const zero = ZERO0 + ZERO_STEP * r;
    const cx = (start + DATA_W / 2) * S;
    const ts = 32, sub = ts * 0.7, sd = 6.5;
    items.push(
      <text key={'t' + idx} x={cx} y={(zero - 942) * S} textAnchor="middle" fontFamily={FONT}
        fontSize={ts} style={{ whiteSpace: 'pre' }}>
        <tspan fontStyle="italic">M</tspan>
        <tspan fontSize={sub} dy={sd}>0</tspan>
        <tspan dy={-sd}>{` = ${M0_LABELS[idx]}, `}</tspan>
        <tspan fontStyle="italic">B</tspan>
        <tspan fontSize={sub} dy={sd}>0</tspan>
        <tspan dy={-sd}>{` = ${M0_LABELS[idx]}, `}</tspan>
        <tspan fontStyle="italic">I</tspan>
        <tspan>{` = ${I_LABELS[idx]}`}</tspan>
      </text>
    );
    items.push(
      <text key={'r' + idx} x={(start - 145) * S} y={(zero - 868) * S} fontFamily={FONT} fontSize={28}
        style={{ whiteSpace: 'pre' }}>
        {`Remaining Species : ${REMAINING[idx]}`}
      </text>
    );
    const ls = 28, lsub = ls * 0.7, ld = 5;
    const yx = (start - OFFSET - (idx === 0 ? 101 : 142)) * S;
    const yy = (zero - 431) * S;
    items.push(
      <text key={'y' + idx} transform={`translate(${yx},${yy}) rotate(-90)`} textAnchor="middle"
        fontFamily={FONT} fontSize={ls}>
        <tspan fontStyle="italic">log</tspan>
        <tspan fontSize={lsub} dy={ld}>10</tspan>
        <tspan dy={-ld}>(</tspan>
        <tspan fontStyle="italic">Abundance</tspan>
        <tspan>)</tspan>
      </text>
    );
    items.push(
      <text key={'x' + idx} x={cx} y={(zero + 218) * S} textAnchor="middle" fontFamily={FONT} fontSize={ls}>
        <tspan fontStyle="italic">log</tspan>
        <tspan fontSize={lsub} dy={ld}>10</tspan>
        <tspan dy={-ld}>(</tspan>
        <tspan fontStyle="italic">Time</tspan>
        <tspan>)</tspan>
      </text>
    );
  }
  return (
    <svg width={4096} height={2458} style={{ position: 'absolute', left: 0, top: 0, pointerEvents: 'none' }}>
      {items}
    </svg>
  );
}

export default function App() {
  return (
    <div style={{ position: 'absolute', left: 0, top: 0, width: 4096, height: 2458, background: '#fff', overflow: 'hidden' }}>
      {PANELS.map((_, i) => <Panel key={i} idx={i} />)}
      <Texts />
    </div>
  );
}
